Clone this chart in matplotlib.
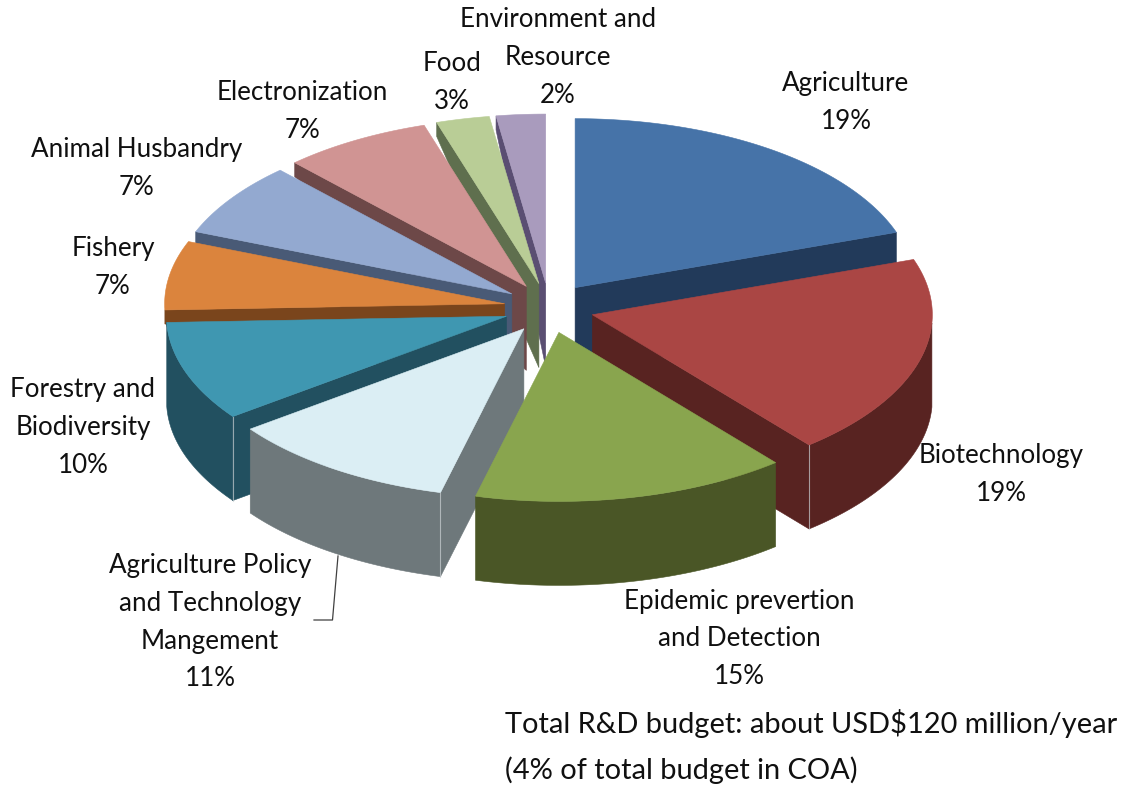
import numpy as np
import matplotlib
matplotlib.use("Agg")
import matplotlib.pyplot as plt
from matplotlib.patches import Polygon

# R&D budget shares, clockwise from twelve o'clock
categories = ["Agriculture", "Biotechnology", "Epidemic prevertion\nand Detection",
              "Agriculture Policy\nand Technology\nMangement", "Forestry and\nBiodiversity",
              "Fishery", "Animal Husbandry", "Electronization", "Food",
              "Environment and\nResource"]
shares = [19, 19, 15, 11, 10, 7, 7, 7, 3, 2]
note_lines = ["Total R&D budget: about USD$120 million/year", "(4% of total budget in COA)"]

top_colors = ["#4673A8", "#AA4644", "#89A54E", "#DBEEF4", "#3F97B1",
              "#DB843D", "#93A9D0", "#D09493", "#B9CD96", "#A99BBD"]
wall_colors = ["#223A5A", "#582321", "#4A5626", "#6E787B", "#225060",
               "#7A451C", "#495A76", "#6D4848", "#5F6F4E", "#5A4E72"]

# Label anchors: centre x and the y of the first text line
label_anchor = [(846, 83), (1001, 455), (739, 601), (210, 565), (83, 389),
                (113, 248), (137, 149), (302, 92), (452, 63), (558, 19)]
LINE_STEP = 38

# Projection of the pie disc onto the page, in pixels
CX, CY = 549, 308
RX, RY = 340, 169
EXPLODE_X, EXPLODE_Y = 45, 25
DEPTH = 84
BACK_RIM_DEPTH = 14  # cut faces taper towards the far rim

# Foreshortening of the disc: angle turned by the camera at each angle of the pie
warp_from = [0, 68.4, 136.8, 190.8, 230.4, 266.4, 291.6, 342, 352.8, 360]
warp_by = [0, 2.5, 3.6, 3.4, 3.2, 1.5, 0, 0.5, -1.2, 0]

# Back-to-front painting order
paint_order = [9, 8, 7, 6, 5, 4, 0, 1, 3, 2]

plt.rcParams["font.family"] = ["Lato", "DejaVu Sans"]
fig = plt.figure(figsize=(11.26, 7.89), dpi=100)
ax = fig.add_axes([0, 0, 1, 1])
ax.set_xlim(0, 1126)
ax.set_ylim(789, 0)
ax.axis("off")

edges = np.concatenate([[0], np.cumsum(shares)]) / sum(shares) * 360


def turned(a):
    return a + np.interp(a, warp_from, warp_by)


def rim(apex, a0, a1, n=80):
    t = np.radians(turned(np.linspace(a0, a1, n)))
    return np.column_stack([apex[0] + RX * np.sin(t), apex[1] - RY * np.cos(t)])


def point(apex, a):
    return rim(apex, a, a, 1)[0]


def face(pts, color, z):
    ax.add_patch(Polygon(pts, closed=True, fc=color, ec=color, lw=0.4, zorder=z))


down = np.array([0, DEPTH])
for rank, i in enumerate(paint_order):
    a0, a1 = edges[i], edges[i + 1]
    mid = np.radians(turned((a0 + a1) / 2))
    apex = np.array([CX + EXPLODE_X * np.sin(mid), CY - EXPLODE_Y * np.cos(mid)])
    z = 2 + rank
    start_wall = np.sin(np.radians(a0)) < -1e-6
    end_wall = np.sin(np.radians(a1)) > 1e-6

    # Cut faces
    if start_wall:
        p = point(apex, a0)
        outer = np.array([0, BACK_RIM_DEPTH]) if a0 > 260 else down
        face([apex, p, p + outer, apex + down], wall_colors[i], z)
    if end_wall:
        p = point(apex, a1)
        face([apex, p, p + down, apex + down], wall_colors[i], z)

    # Outer rim: only the stretch facing the viewer, ignoring slivers
    lo, hi = max(a0, 90), min(a1, 270)
    if hi - lo > 10:
        arc = rim(apex, lo, hi)
        face(np.vstack([arc, (arc + down)[::-1]]), wall_colors[i], z)
        # Fine highlight down the corner where rim and cut face meet
        for a, has_wall in ((a0, start_wall), (a1, end_wall)):
            if has_wall and 90 <= a <= 270:
                p = point(apex, a)
                ax.plot([p[0], p[0]], [p[1], p[1] + DEPTH], color="#C9CFD2",
                        lw=0.8, alpha=0.7, zorder=z)

    # Top face
    face(np.vstack([[apex], rim(apex, a0, a1)]), top_colors[i], z)

# Leader line for the policy label
ax.plot([338, 332.5, 314], [556, 620, 620], color="#404040", lw=0.9, zorder=20)

for name, share, (x, y) in zip(categories, shares, label_anchor):
    for k, line in enumerate(name.split("\n") + [f"{share}%"]):
        ax.text(x, y + k * LINE_STEP, line, ha="center", va="center",
                fontsize=18.7, color="#101010", zorder=30)

for k, line in enumerate(note_lines):
    ax.text(505, 723 + k * 47, line, ha="left", va="center", fontsize=20.87,
            color="#101010", zorder=30)

fig.savefig("out.png", dpi=100, facecolor="white")
